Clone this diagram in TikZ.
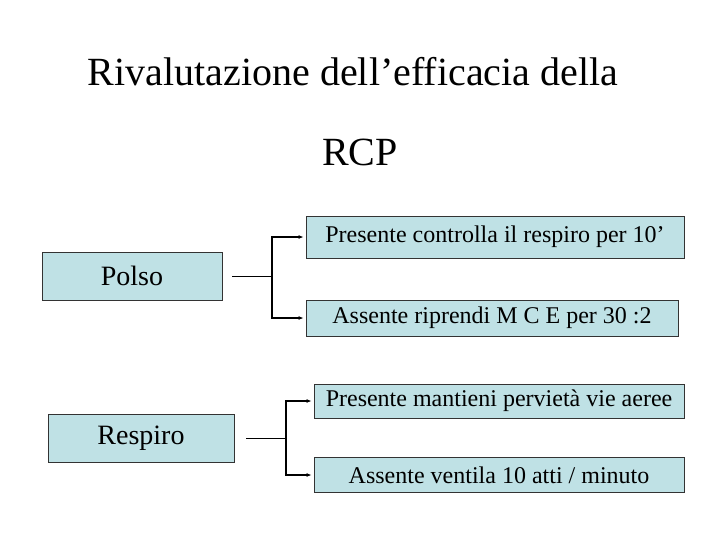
\documentclass[tikz,border=0pt]{standalone}
\usepackage{fontspec}
\setmainfont{Liberation Serif}
\usetikzlibrary{arrows.meta}
\definecolor{boxblue}{RGB}{191,225,229}

\tikzset{
  box/.style={draw=black!80, fill=boxblue, line width=0.8pt, inner sep=0pt},
  bigbox/.style={box, font=\fontsize{28}{32}\selectfont},
  smallbox/.style={box, font=\fontsize{24}{28}\selectfont},
  arr/.style={line width=1.6pt, -{Latex[length=5pt,width=4pt]}, shorten >=2pt},
}

\begin{document}
\begin{tikzpicture}[x=1pt,y=-1pt]
  \useasboundingbox (0,0) rectangle (720,540);

    \node[font=\fontsize{40}{48}\selectfont] (title) at (353,72) {Rivalutazione dell’efficacia della};
    \node[font=\fontsize{40}{48}\selectfont] (rcp) at (360,152) {RCP};

    % polso
    \node[bigbox, minimum width=180pt, minimum height=48pt] (polso) at (132,276) {Polso};
    \node[smallbox, minimum width=378pt, minimum height=42pt] (pres1) at (495,237) {Presente controlla il respiro per 10’};
    \node[smallbox, minimum width=372pt, minimum height=36pt] (ass1) at (492,318) {Assente riprendi M C E per 30 :2};
    \coordinate (j1) at (272,276);
    \draw[line width=0.8pt] ([xshift=10pt]polso.east) -- (j1);
    \draw[arr] (j1) |- (pres1.west);
    \draw[arr] (j1) |- (ass1.west);

    % respiro
    \node[bigbox, minimum width=186pt, minimum height=48pt] (resp) at (141,438) {Respiro};
    \node[smallbox, minimum width=370pt, minimum height=34pt] (pres2) at (499,401) {Presente mantieni pervietà vie aeree};
    \node[smallbox, minimum width=370pt, minimum height=35pt] (ass2) at (499,475) {Assente ventila 10 atti / minuto};
    \coordinate (j2) at (286,438);
    \draw[line width=0.8pt] ([xshift=12pt]resp.east) -- (j2);
    \draw[arr] (j2) |- (pres2.west);
    \draw[arr] (j2) |- (ass2.west);

\end{tikzpicture}
\end{document}
